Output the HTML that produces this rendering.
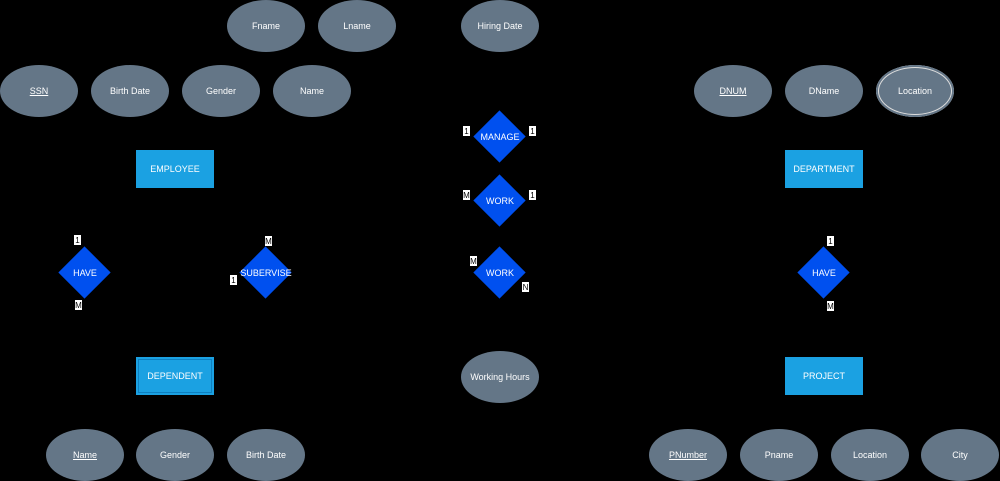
<!DOCTYPE html>
<html><head><style>
body{margin:0;width:1000px;height:481px;background:#000;overflow:hidden;position:relative;font-family:"Liberation Sans",sans-serif}
.e,.r,.d,.c{position:absolute;display:flex;align-items:center;justify-content:center;color:#fff;font-size:9px}
.e{width:78px;height:52px;border-radius:50%;background:#647687;margin:-26px 0 0 -39px}
.r{width:78px;height:38px;background:#1ba1e2}
.d{width:52px;height:52px;margin:-26px 0 0 -26px}
.d::before{content:"";position:absolute;left:7px;top:7px;width:37px;height:37px;background:#0050ef;transform:rotate(45deg)}
.d span{position:relative}
.c{background:#fff;color:#000;font-size:8px;width:7px;height:10px;margin:-5px 0 0 -4px}
u{text-decoration:underline}
</style></head><body>
<div class="e" style="left:266px;top:26px">Fname</div>
<div class="e" style="left:357px;top:26px">Lname</div>
<div class="e" style="left:500px;top:26px">Hiring Date</div>
<div class="e" style="left:39px;top:91px"><u>SSN</u></div>
<div class="e" style="left:130px;top:91px">Birth Date</div>
<div class="e" style="left:221px;top:91px">Gender</div>
<div class="e" style="left:312px;top:91px">Name</div>
<div class="e" style="left:733px;top:91px"><u>DNUM</u></div>
<div class="e" style="left:824px;top:91px">DName</div>
<div class="e" style="left:915px;top:91px;box-shadow:inset 0 0 0 2px #647687,inset 0 0 0 3px #ddd">Location</div>
<div class="e" style="left:85px;top:455px"><u>Name</u></div>
<div class="e" style="left:175px;top:455px">Gender</div>
<div class="e" style="left:266px;top:455px">Birth Date</div>
<div class="e" style="left:500px;top:377px">Working Hours</div>
<div class="e" style="left:688px;top:455px"><u>PNumber</u></div>
<div class="e" style="left:779px;top:455px">Pname</div>
<div class="e" style="left:870px;top:455px">Location</div>
<div class="e" style="left:960px;top:455px">City</div>
<div class="r" style="left:136px;top:150px">EMPLOYEE</div>
<div class="r" style="left:136px;top:357px;box-shadow:inset 0 0 0 2px #1ba1e2,inset 0 0 0 3px #0e80c0">DEPENDENT</div>
<div class="r" style="left:785px;top:150px">DEPARTMENT</div>
<div class="r" style="left:785px;top:357px">PROJECT</div>
<div class="d" style="left:500px;top:137px"><span>MANAGE</span></div>
<div class="d" style="left:500px;top:201px"><span>WORK</span></div>
<div class="d" style="left:500px;top:273px"><span>WORK</span></div>
<div class="d" style="left:85px;top:273px"><span>HAVE</span></div>
<div class="d" style="left:266px;top:273px"><span>SUBERVISE</span></div>
<div class="d" style="left:824px;top:273px"><span>HAVE</span></div>
<div class="c" style="left:467px;top:131px">1</div>
<div class="c" style="left:533px;top:131px">1</div>
<div class="c" style="left:467px;top:195px">M</div>
<div class="c" style="left:533px;top:195px">1</div>
<div class="c" style="left:474px;top:261px">M</div>
<div class="c" style="left:526px;top:287px">N</div>
<div class="c" style="left:78px;top:240px">1</div>
<div class="c" style="left:79px;top:305px">M</div>
<div class="c" style="left:269px;top:241px">M</div>
<div class="c" style="left:234px;top:280px">1</div>
<div class="c" style="left:831px;top:241px">1</div>
<div class="c" style="left:831px;top:306px">M</div>
</body></html>
